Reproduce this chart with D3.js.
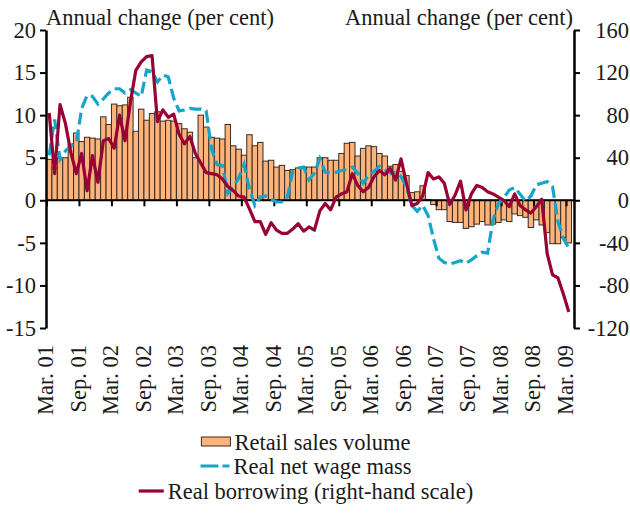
<!DOCTYPE html>
<html>
<head>
<meta charset="utf-8">
<script src="https://cdn.jsdelivr.net/npm/d3@7/dist/d3.min.js"></script>
<style>
body { margin: 0; background: #fff; }
svg text { font-family: "Liberation Serif", "Times New Roman", serif; fill: #1a1a1a; }
</style>
</head>
<body>
<svg id="chart" width="630" height="514"></svg>
<script>
// monthly, Mar. 01 .. Mar. 09
var tickLabels = ['Mar. 01', 'Sep. 01', 'Mar. 02', 'Sep. 02', 'Mar. 03', 'Sep. 03',
    'Mar. 04', 'Sep. 04', 'Mar. 05', 'Sep. 05', 'Mar. 06', 'Sep. 06',
    'Mar. 07', 'Sep. 07', 'Mar. 08', 'Sep. 08', 'Mar. 09'];

// retail sales volume, left scale
var retail = [4.8, 3.8, 5.0, 5.0, 6.6, 7.9, 6.9, 7.4, 7.3, 7.2,
    9.8, 8.9, 11.3, 11.1, 11.2, 12.1, 8.1, 10.7, 9.4, 10.2,
    10.4, 9.3, 9.4, 9.3, 9.0, 8.4, 8.0, 5.0, 10.0, 8.6,
    7.4, 7.3, 7.2, 8.9, 6.4, 6.0, 5.3, 7.7, 6.4, 6.8,
    4.6, 4.7, 3.9, 4.1, 3.5, 3.6, 3.8, 3.9, 3.9, 3.9,
    5.0, 5.0, 4.7, 4.7, 5.5, 6.7, 6.8, 5.2, 6.1, 6.4,
    6.3, 5.5, 5.2, 4.0, 4.2, 3.4, 2.9, 0.9, 1.0, 1.7,
    0.1, -0.5, -1.1, -1.1, -2.5, -2.6, -2.6, -3.3, -3.1, -2.8,
    -2.5, -2.9, -2.8, -2.6, -2.3, -2.5, -1.6, -1.8, -2.0, -3.2,
    -2.3, -2.9, -3.8, -5.1, -5.1, -4.4, -5.0];

// real net wage mass, left scale
var wage = [5.3, 9.5, 4.8, 5.8, 6.4, 6.7, 10.8, 12.3, 12.2, 11.3,
    11.9, 12.6, 13.1, 13.1, 12.6, 13.0, 12.6, 12.2, 15.3, 15.1,
    13.9, 14.7, 14.5, 12.0, 10.5, 10.6, 10.8, 10.7, 10.7, 10.5,
    6.0, 4.2, 4.1, 0.8, 1.6, 2.6, 4.2, 1.3, -0.6, 0.4,
    0.5, 0.1, -0.2, -0.2, 0.4, 3.4, 3.8, 3.9, 2.4, 3.2,
    4.9, 3.3, 3.2, 3.3, 3.5, 3.6, 3.9, 3.2, 2.0, 2.9,
    3.4, 4.0, 3.6, 3.2, 3.3, 2.8, 1.6, -0.6, -1.3, -0.6,
    -1.8, -4.5, -6.8, -7.3, -7.5, -7.3, -7.1, -7.4, -7.0, -6.5,
    -6.1, -6.2, -2.3, -0.4, 0.3, 1.2, 1.5, 0.7, -0.1, 0.5,
    1.8, 2.0, 2.2, 1.6, -2.5, -4.5, -5.6];

// real borrowing, right scale
var borrowing = [82, 25, 90, 72, 45, 25, 44, 9, 42, 17,
    56, 58, 49, 80, 56, 92, 122, 130, 135, 136,
    74, 85, 78, 81, 62, 53, 60, 44, 35, 26,
    25, 24, 20, 13, 9, 4, 3, -8, -20, -20,
    -32, -21, -28, -31, -31, -27, -22, -29, -25, -28,
    -10, -3, -9, 3, 6, 8, 25, 14, 8, 12,
    22, 28, 24, 30, 19, 39, 16, -5, -3, 4,
    26, 20, 22, 16, -4, 5, 18, -9, 6, 14,
    12, 8, 6, 3, 0, -6, 6, -5, -9, -12,
    -6, 1, -50, -70, -73, -88, -105];

var leftTicks = [20, 15, 10, 5, 0, -5, -10, -15];
var rightTicks = [160, 120, 80, 40, 0, -40, -80, -120];

var svg = d3.select('#chart');
var fontSize = 22.5;

var x = d3.scaleLinear().domain([0, retail.length]).range([46.5, 571.5]);
var y = d3.scaleLinear().domain([-15, 20]).range([328, 30]);
var y2 = d3.scaleLinear().domain([-120, 160]).range([328, 30]);

function mid(d, i) { return x(i + 0.5); }

// bars
svg.append('g').selectAll('rect')
    .data(retail)
  .enter().append('rect')
    .attr('x', function(d, i) { return x(i); })
    .attr('width', function(d, i) { return x(i + 1) - x(i); })
    .attr('y', function(d) { return Math.min(y(d), y(0)); })
    .attr('height', function(d) { return Math.abs(y(d) - y(0)); })
    .attr('fill', '#fcb47c')
    .attr('stroke', '#3b2a20')
    .attr('stroke-width', 1);

// zero line with half-year ticks
var xa = svg.append('g')
    .attr('transform', 'translate(0,' + y(0) + ')')
    .call(d3.axisBottom(x).tickValues(d3.range(0, retail.length, 6))
        .tickSize(6).tickFormat(''));
xa.select('.domain').remove();
xa.selectAll('line').attr('stroke', '#000').attr('stroke-width', 2);
svg.append('line')
    .attr('x1', 46).attr('x2', 574)
    .attr('y1', y(0)).attr('y2', y(0))
    .attr('stroke', '#000').attr('stroke-width', 2);

// lines
var wageLine = d3.line()
    .x(mid)
    .y(function(d) { return y(d); });
var borrowLine = d3.line()
    .x(mid)
    .y(function(d) { return y2(d); });

svg.append('path')
    .datum(wage)
    .attr('d', wageLine)
    .attr('fill', 'none')
    .attr('stroke', '#14a5c9')
    .attr('stroke-width', 3.2)
    .attr('stroke-dasharray', '12,5');

svg.append('path')
    .datum(borrowing)
    .attr('d', borrowLine)
    .attr('fill', 'none')
    .attr('stroke', '#990033')
    .attr('stroke-width', 3.2)
    .attr('stroke-linejoin', 'round');

// left axis
var ya = svg.append('g')
    .attr('transform', 'translate(46,0)')
    .call(d3.axisLeft(y).tickValues(leftTicks).tickSize(6).tickSizeOuter(0)
        .tickPadding(4).tickFormat(function(d) { return String(d); }));
ya.attr('font-size', fontSize).attr('font-family', null);
ya.select('.domain').attr('stroke', '#000').attr('stroke-width', 2.5);
ya.selectAll('line').attr('stroke', '#000').attr('stroke-width', 2);
ya.selectAll('text').attr('fill', '#1a1a1a');

// right axis
var ya2 = svg.append('g')
    .attr('transform', 'translate(574,0)')
    .call(d3.axisRight(y2).tickValues(rightTicks).tickSize(6).tickSizeOuter(0)
        .tickFormat(function(d) { return String(d); }));
ya2.attr('font-size', fontSize).attr('font-family', null);
ya2.select('.domain').attr('stroke', '#000').attr('stroke-width', 2.5);
ya2.selectAll('line').attr('stroke', '#000').attr('stroke-width', 2);
ya2.selectAll('text')
    .attr('fill', '#1a1a1a')
    .attr('text-anchor', 'end')
    .attr('x', 55);

// month labels
var xl = svg.append('g')
    .attr('transform', 'translate(0,345)')
    .call(d3.axisBottom(x).tickValues(d3.range(0, retail.length, 6))
        .tickSize(0).tickPadding(0)
        .tickFormat(function(d) { return tickLabels[d / 6]; }));
xl.attr('font-size', fontSize).attr('font-family', null);
xl.select('.domain').remove();
xl.selectAll('text')
    .attr('fill', '#1a1a1a')
    .attr('y', 0)
    .attr('dy', '0.28em')
    .attr('transform', 'rotate(-90)')
    .attr('text-anchor', 'end');

// scale titles
svg.append('text')
    .attr('x', 46).attr('y', 25)
    .attr('font-size', fontSize)
    .text('Annual change (per cent)');
svg.append('text')
    .attr('x', 573).attr('y', 25)
    .attr('font-size', fontSize)
    .attr('text-anchor', 'end')
    .text('Annual change (per cent)');

// legend, each row centred
var legend = [
    {name: 'Retail sales volume', type: 'bar', sw: 29, base: 450},
    {name: 'Real net wage mass', type: 'wage', sw: 29, base: 474},
    {name: 'Real borrowing (right-hand scale)', type: 'borrow', sw: 25, base: 499}
];
var cx = 306;
legend.forEach(function(l) {
    var g = svg.append('g');
    var t = g.append('text')
        .attr('font-size', fontSize)
        .attr('y', l.base)
        .text(l.name);
    var w = t.node().getComputedTextLength();
    var x0 = cx - (l.sw + 4 + w) / 2;
    t.attr('x', x0 + l.sw + 4);
    var my = l.base - 8;
    if (l.type == 'bar')
        g.append('rect')
            .attr('x', x0).attr('y', my - 5)
            .attr('width', l.sw).attr('height', 9)
            .attr('fill', '#fcb47c').attr('stroke', '#3b2a20');
    else
        g.append('line')
            .attr('x1', x0).attr('x2', x0 + l.sw)
            .attr('y1', my).attr('y2', my)
            .attr('stroke', l.type == 'wage' ? '#14a5c9' : '#990033')
            .attr('stroke-width', 3.2)
            .attr('stroke-dasharray', l.type == 'wage' ? '18,4' : null);
});
</script>
</body>
</html>
